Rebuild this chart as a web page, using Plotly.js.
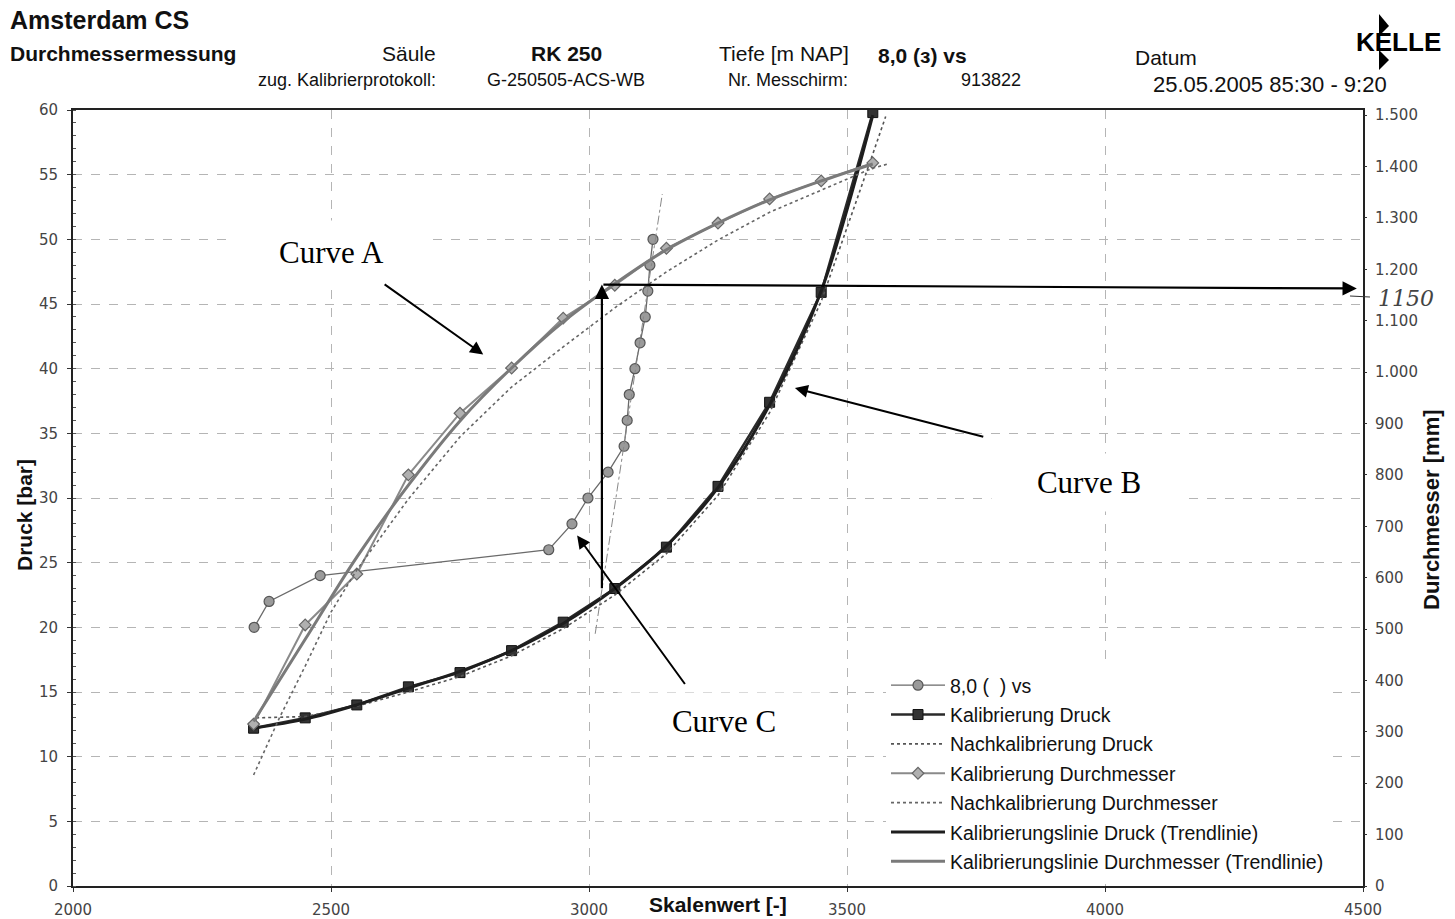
<!DOCTYPE html>
<html>
<head>
<meta charset="utf-8">
<script src="https://cdn.plot.ly/plotly-3.0.1.min.js"></script>
<style>html,body{margin:0;padding:0;background:#fff;}#chart{width:1455px;height:919px;}</style>
</head>
<body>
<div id="chart"></div>
<script>
// ---- data ----
const calX = [2350, 2450, 2550, 2650, 2750, 2850, 2950, 3050, 3150, 3250, 3350, 3450, 3550];
const kalDruck = [12.2, 13.0, 14.0, 15.4, 16.5, 18.2, 20.4, 23.0, 26.2, 30.9, 37.4, 45.9, 59.8];
const kalDurch = [315, 508, 607, 800, 920, 1008, 1105, 1169, 1241, 1290, 1337, 1372, 1407];
const trendDruck = [12.2, 12.9, 14.0, 15.3, 16.6, 18.2, 20.3, 23.0, 26.3, 30.8, 37.2, 46.0, 59.6];
const trendDurch = [320, 480, 640, 780, 905, 1008, 1098, 1172, 1238, 1290, 1335, 1372, 1405];

const nachDruckX = [2355, 2450, 2550, 2650, 2750, 2850, 2950, 3050, 3150, 3250, 3350, 3450, 3550, 3575];
const nachDruck = [13.0, 13.1, 13.9, 15.0, 16.2, 17.8, 19.9, 22.5, 25.7, 30.2, 36.6, 45.2, 56.6, 59.5];

const nachDurchX = [2350, 2400, 2450, 2500, 2550, 2600, 2650, 2750, 2850, 2950, 3050, 3150, 3250, 3350, 3450, 3550, 3580];
const nachDurch = [216, 327, 428, 533, 615, 685, 753, 874, 971, 1049, 1125, 1195, 1257, 1311, 1354, 1397, 1405];

const vsX = [2351, 2380, 2479, 2922, 2967, 2998, 3037, 3068, 3074, 3078, 3089, 3099, 3109, 3114, 3118, 3124];
const vsY = [20, 22, 24, 26, 28, 30, 32, 34, 36, 38, 40, 42, 44, 46, 48, 50];

const vsTrendX = [3012, 3142];
const vsTrendY = [19.5, 53.5];

const xTicks = [2000, 2500, 3000, 3500, 4000, 4500];

// ---- geometry helpers (layout only) ----
const L = 73, R = 1363, T = 110, B = 886;
const px = x => (x - L) / (R - L);
const py = y => (B - y) / (B - T);
const AR = 'Liberation Sans, Arial, sans-serif';
const TM = 'Liberation Serif, Times New Roman, serif';
const TK = 'DejaVu Sans, Verdana, sans-serif';

const traces = [
  {x: vsX, y: vsY, name: '8,0 (  ) vs', mode: 'lines+markers', legendgroup: 'g1',
   line: {color: '#6a6a6a', width: 1.3},
   marker: {symbol: 'circle', size: 10, color: '#9a9a9a', line: {color: '#555', width: 1.2}}},
  {x: calX, y: kalDruck, name: 'Kalibrierung Druck', mode: 'lines+markers', legendgroup: 'g2',
   line: {color: '#2a2a2a', width: 2.5},
   marker: {symbol: 'square', size: 10, color: '#333', line: {color: '#111', width: 1}}},
  {x: nachDruckX, y: nachDruck, name: 'Nachkalibrierung Druck', mode: 'lines', legendgroup: 'g3',
   line: {color: '#555', width: 1.6, dash: 'dot'}},
  {x: calX, y: kalDurch, name: 'Kalibrierung Durchmesser', mode: 'lines+markers', yaxis: 'y2', legendgroup: 'g4',
   line: {color: '#8a8a8a', width: 2},
   marker: {symbol: 'diamond', size: 9, color: '#b0b0b0', line: {color: '#666', width: 1.2}}},
  {x: nachDurchX, y: nachDurch, name: 'Nachkalibrierung Durchmesser', mode: 'lines', yaxis: 'y2', legendgroup: 'g5',
   line: {color: '#666', width: 1.6, dash: 'dot'}},
  {x: calX, y: trendDruck, name: 'Kalibrierungslinie Druck (Trendlinie)', mode: 'lines', legendgroup: 'g6',
   line: {color: '#1e1e1e', width: 3, shape: 'spline'}},
  {x: calX, y: trendDurch, name: 'Kalibrierungslinie Durchmesser (Trendlinie)', mode: 'lines', yaxis: 'y2', legendgroup: 'g7',
   line: {color: '#7a7a7a', width: 3, shape: 'spline'}},
  {x: vsTrendX, y: vsTrendY, name: 'trend vs', mode: 'lines', showlegend: false,
   line: {color: '#888', width: 1, dash: 'dashdot'}}
];

function txt(text, x, y, size, opts) {
  return Object.assign({
    text: text, xref: 'paper', yref: 'paper', x: px(x), y: py(y),
    xanchor: 'left', yanchor: 'middle', showarrow: false,
    font: {family: AR, size: size, color: '#111'}
  }, opts || {});
}

const annotations = [
  txt('<b>Amsterdam CS</b>', 8, 20, 25),
  txt('<b>Durchmessermessung</b>', 8, 53, 21),
  txt('Säule', 438, 53, 21, {xanchor: 'right'}),
  txt('<b>RK 250</b>', 566, 53, 21, {xanchor: 'center'}),
  txt('Tiefe [m NAP]', 851, 53, 21, {xanchor: 'right'}),
  txt('<b>8,0 (з) vs</b>', 876, 55, 21),
  txt('Datum', 1133, 57, 21),
  txt('zug. Kalibrierprotokoll:', 438, 80, 18, {xanchor: 'right'}),
  txt('G-250505-ACS-WB', 566, 80, 18, {xanchor: 'center'}),
  txt('Nr. Messchirm:', 850, 80, 18, {xanchor: 'right'}),
  txt('913822', 991, 80, 18, {xanchor: 'center'}),
  txt('25.05.2005 85:30 - 9:20', 1270, 85, 22, {xanchor: 'center'}),
  txt('<b>KELLE</b>', 1398, 42, 26, {xanchor: 'center', font: {family: AR, size: 26, color: '#000'}}),
  txt('<b>Skalenwert [-]</b>', 718, 905, 21, {xanchor: 'center'}),
  txt('<i>1150</i>', 1376, 298, 22, {font: {family: 'DejaVu Serif, serif', size: 22, color: '#444'}}),
  // rotated axis titles
  txt('<b>Druck [bar]</b>', 24, 515, 21, {xanchor: 'center', textangle: -90}),
  txt('<b>Durchmesser [mm]</b>', 1432, 510, 22, {xanchor: 'center', textangle: -90}),
  // curve labels
  {text: 'Curve A', x: 2500, y: 49.0, xref: 'x', yref: 'y', showarrow: false,
   bgcolor: '#fff', width: 195, height: 60, font: {family: TM, size: 31, color: '#000'}},
  {text: 'Curve B', x: 3969, y: 31.2, xref: 'x', yref: 'y', showarrow: false,
   bgcolor: '#fff', width: 192, height: 55, font: {family: TM, size: 31, color: '#000'}},
  {text: 'Curve C', x: 3262, y: 12.7, xref: 'x', yref: 'y', showarrow: false,
   bgcolor: '#fff', width: 210, height: 55, font: {family: TM, size: 31, color: '#000'}},
  // arrows
  {x: 2795, y: 41.1, ax: 2601, ay: 46.6, xref: 'x', yref: 'y', axref: 'x', ayref: 'y', text: '',
   showarrow: true, arrowhead: 2, arrowsize: 1.3, arrowwidth: 2, arrowcolor: '#000'},
  {x: 3399, y: 38.5, ax: 3767, ay: 34.7, xref: 'x', yref: 'y', axref: 'x', ayref: 'y', text: '',
   showarrow: true, arrowhead: 2, arrowsize: 1.3, arrowwidth: 2, arrowcolor: '#000'},
  {x: 2977, y: 27.1, ax: 3188, ay: 15.5, xref: 'x', yref: 'y', axref: 'x', ayref: 'y', text: '',
   showarrow: true, arrowhead: 2, arrowsize: 1.3, arrowwidth: 2, arrowcolor: '#000'},
  {x: 3025, y: 46.5, ax: 3025, ay: 22.9, xref: 'x', yref: 'y', axref: 'x', ayref: 'y', text: '',
   showarrow: true, arrowhead: 2, arrowsize: 1.3, arrowwidth: 2.2, arrowcolor: '#000'},
  {x: 4488, y: 46.2, ax: 3025, ay: 46.5, xref: 'x', yref: 'y', axref: 'x', ayref: 'y', text: '',
   showarrow: true, arrowhead: 2, arrowsize: 1.3, arrowwidth: 2.2, arrowcolor: '#000'}
];

const shapes = [
  // handwritten tick near 1150
  {type: 'line', xref: 'paper', yref: 'paper', x0: px(1350), x1: px(1370), y0: py(296), y1: py(297),
   line: {color: '#333', width: 1.2}},
  // KELLE logo arrow marks
  {type: 'path', xref: 'paper', yref: 'paper',
   path: `M ${px(1379)} ${py(14)} L ${px(1389)} ${py(26)} L ${px(1379)} ${py(36)} Z`,
   fillcolor: '#000', line: {width: 0}},
  {type: 'path', xref: 'paper', yref: 'paper',
   path: `M ${px(1379)} ${py(50)} L ${px(1389)} ${py(60)} L ${px(1379)} ${py(70)} Z`,
   fillcolor: '#000', line: {width: 0}}
];

const layout = {
  width: 1455, height: 919,
  margin: {l: L, r: 1455 - R, t: T, b: 919 - B},
  paper_bgcolor: '#fff', plot_bgcolor: '#fff',
  separators: ',.',
  showlegend: true,
  font: {family: AR, color: '#333'},
  xaxis: {range: [2000, 4500], tickvals: xTicks, ticks: 'outside', ticklen: 4, tickcolor: '#333',
    showline: true, linecolor: '#222', linewidth: 2, mirror: true, zeroline: false,
    showgrid: true, gridcolor: '#b5b5b5', griddash: 'dash', gridwidth: 1,
    tickfont: {family: TK, size: 15, color: '#444'}, ticklabelstandoff: 5},
  yaxis: {range: [0, 60], dtick: 5, ticks: 'outside', ticklen: 4, tickcolor: '#333',
    showline: true, linecolor: '#222', linewidth: 2, mirror: true, zeroline: false,
    showgrid: true, gridcolor: '#b5b5b5', griddash: 'dash', gridwidth: 1,
    minor: {dtick: 1, ticks: 'inside', ticklen: 3, tickcolor: '#555', showgrid: false},
    tickfont: {family: TK, size: 15, color: '#444'}, ticklabelstandoff: 6},
  yaxis2: {range: [0, 1510], dtick: 100, tickformat: ',d', overlaying: 'y', side: 'right',
    ticks: 'outside', ticklen: 3, tickcolor: '#333', showgrid: false, zeroline: false,
    tickfont: {family: TK, size: 15, color: '#444'}, ticklabelstandoff: 5},
  legend: {x: px(886), y: py(666), xanchor: 'left', yanchor: 'top', bgcolor: '#fff',
    borderwidth: 0, font: {size: 19.5, color: '#111', family: AR}, tracegroupgap: 1, itemwidth: 54},
  annotations: annotations,
  shapes: shapes
};

Plotly.newPlot('chart', traces, layout, {displayModeBar: false, staticPlot: true});
</script>
</body>
</html>
